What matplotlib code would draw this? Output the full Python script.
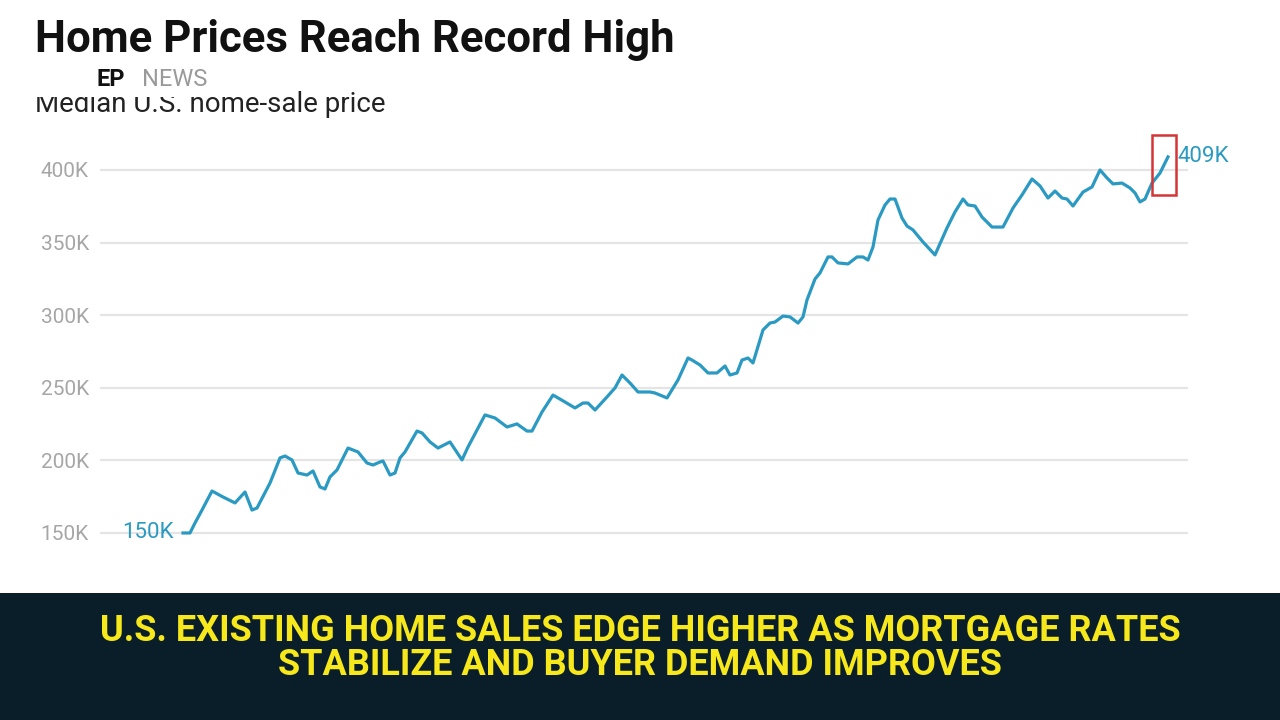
import matplotlib
matplotlib.use("Agg")
import matplotlib.pyplot as plt
from matplotlib.patches import Rectangle

# Median U.S. home-sale price (thousands of dollars).
# time_idx is an arbitrary, evenly scaled time position (no x labels shown).
time_idx = [0, 7, 12, 19, 29, 40, 52, 62, 69, 74, 87, 97, 102, 109, 115, 124,
            130, 137, 142, 147, 154, 165, 175, 184, 190, 197, 200, 207, 212,
            217, 222, 234, 239, 247, 255, 267, 279, 285, 302, 312, 324, 334,
            344, 349, 359, 370, 382, 392, 400, 405, 412, 424, 432, 439, 447,
            455, 467, 472, 484, 495, 505, 509, 517, 525, 534, 542, 547, 554,
            559, 565, 570, 580, 587, 592, 600, 607, 615, 620, 624, 632, 637,
            645, 649, 655, 665, 674, 680, 685, 690, 695, 702, 707, 712, 719,
            724, 730, 740, 752, 764, 772, 780, 785, 792, 799, 809, 820, 830,
            839, 849, 857, 865, 872, 879, 884, 890, 900, 909, 917, 924, 930,
            939, 947, 952, 957, 962, 969, 977, 985]
price_k = [150.0, 150.0, 156.9, 165.8, 178.9, 174.8, 170.7, 178.2, 165.8, 167.2,
           184.4, 201.7, 203.0, 200.3, 191.3, 189.9, 192.7, 181.7, 180.3, 188.6,
           193.4, 208.5, 205.8, 198.2, 196.8, 198.9, 199.6, 189.9, 191.3, 201.7,
           205.8, 220.2, 218.9, 212.7, 208.5, 212.7, 200.3, 209.2, 231.3, 229.2,
           223.0, 225.1, 220.2, 220.2, 233.3, 245.0, 240.2, 236.1, 239.5, 239.5,
           234.7, 243.7, 249.9, 258.8, 253.3, 247.1, 247.1, 246.4, 243.0, 255.4,
           270.5, 269.1, 265.7, 260.2, 260.2, 265.0, 258.8, 260.2, 269.1, 270.5,
           267.1, 289.8, 294.6, 295.3, 299.4, 298.8, 294.6, 298.8, 310.5, 324.9,
           329.1, 340.1, 340.1, 336.0, 335.3, 340.1, 340.1, 338.0, 347.0, 365.6,
           375.9, 380.0, 380.0, 366.9, 361.4, 358.7, 350.4, 341.5, 360.1, 371.1,
           380.0, 375.9, 375.2, 367.6, 360.7, 360.7, 373.8, 382.8, 393.8, 389.0,
           380.7, 385.5, 380.7, 380.0, 375.2, 384.8, 388.3, 400.0, 394.5, 390.4,
           391.0, 387.6, 384.2, 378.0, 380.0, 391.0, 397.9, 409.0]
y_ticks = [150, 200, 250, 300, 350, 400]
y_tick_labels = ["150K", "200K", "250K", "300K", "350K", "400K"]

title = "Home Prices Reach Record High"
subtitle = "Median U.S. home-sale price"
headline = ("U.S. EXISTING HOME SALES EDGE HIGHER AS MORTGAGE RATES\n"
            "STABILIZE AND BUYER DEMAND IMPROVES")

LINE_COLOR = "#2b9ac2"
GRID_COLOR = "#e4e4e4"
TICK_COLOR = "#a6a6a6"
BANNER_BG = "#0a1e29"
BANNER_FG = "#f7e81c"

fig = plt.figure(figsize=(12.8, 7.2), dpi=100)
fig.patch.set_facecolor("white")

# --- main chart ---
ax = fig.add_axes([100 / 1280, 1 - 547.5 / 720, 1088 / 1280, 399.3 / 720])
ax.plot(time_idx, price_k, color=LINE_COLOR, linewidth=2.3,
        solid_joinstyle="round", zorder=3)
ax.set_xlim(-83, 1005)
ax.set_ylim(140, 415)
ax.set_yticks(y_ticks)
ax.set_yticklabels(y_tick_labels)
ax.set_xticks([])
ax.tick_params(axis="y", length=0, pad=8, labelsize=15, labelcolor=TICK_COLOR)
for lbl in ax.get_yticklabels():
    lbl.set_fontfamily(["Roboto", "DejaVu Sans"])
ax.grid(axis="y", color=GRID_COLOR, linewidth=1.6)
for s in ax.spines.values():
    s.set_visible(False)

# start / end value labels
ax.annotate(f"{price_k[0]:.0f}K", (time_idx[0], price_k[0]),
            xytext=(-7, 0), textcoords="offset points", ha="right",
            va="center", fontsize=16, color=LINE_COLOR, family="Roboto")
ax.annotate(f"{price_k[-1]:.0f}K", (time_idx[-1], price_k[-1]),
            xytext=(7, 0), textcoords="offset points", ha="left",
            va="center", fontsize=16, color=LINE_COLOR, family="Roboto")

# red highlight box around the latest move
ax.add_patch(Rectangle((time_idx[-1] - 16, price_k[-1] - 26), 24, 41,
                       fill=False, edgecolor="#d63535", linewidth=1.8,
                       clip_on=False, zorder=4))

# --- headings ---
fig.text(35 / 1280, 1 - 40 / 720, title, fontsize=31.5, fontweight="bold",
         family="Roboto", color="#111111", va="center", ha="left")
fig.text(35 / 1280, 1 - 104 / 720, subtitle, fontsize=20,
         family="Roboto", color="#222222", va="center", ha="left")
# logo patch covering the top of the subtitle
fig.patches.append(Rectangle((30 / 1280, 1 - 97 / 720), 262 / 1280, 36 / 720,
                             transform=fig.transFigure, facecolor="white",
                             edgecolor="none", zorder=5))
fig.text(96 / 1280, 1 - 79 / 720, "EP", fontsize=17, fontweight="bold",
         family="Roboto", color="#111111",
         va="center", ha="left", zorder=6)
fig.text(142 / 1280, 1 - 79 / 720, "NEWS", fontsize=17,
         family="Roboto", color="#9a9a9a",
         va="center", ha="left", zorder=6)

# --- bottom banner ---
fig.patches.append(Rectangle((0, 0), 1, 127 / 720, transform=fig.transFigure,
                             facecolor=BANNER_BG, edgecolor="none", zorder=1))
fig.text(0.5, 1 - 648 / 720, headline, fontsize=26, fontweight="bold",
         family="Roboto", color=BANNER_FG,
         va="center", ha="center", linespacing=0.9, zorder=2)

fig.savefig("out.png", dpi=100, facecolor=fig.get_facecolor())
